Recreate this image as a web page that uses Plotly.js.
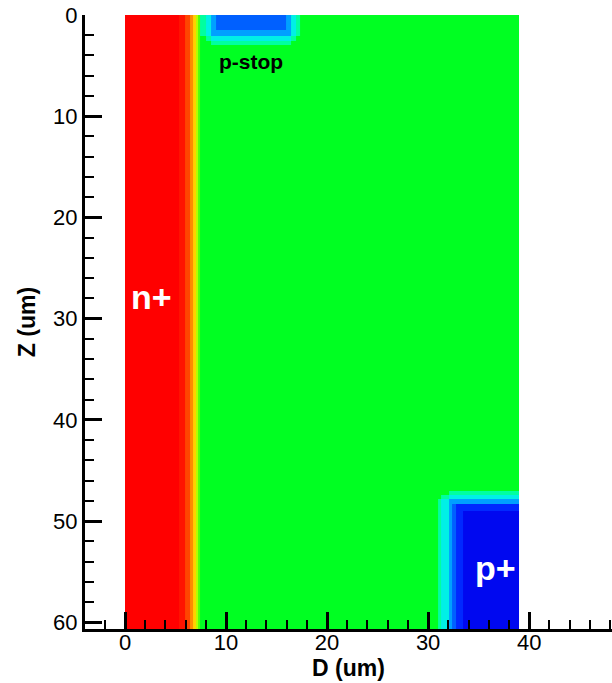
<!DOCTYPE html>
<html>
<head>
<meta charset="utf-8">
<script src="https://cdn.plot.ly/plotly-3.0.1.min.js"></script>
<style>
html,body{margin:0;padding:0;background:#fff;}
#chart{width:612px;height:683px;}
</style>
</head>
<body>
<div id="chart"></div>
<script>
// Cell edges along D (um) and Z (um)
const dEdges = [0, 5.3, 5.9, 6.4, 6.7, 7.0, 7.25, 7.45, 8.0, 8.5, 9.0, 15.9, 16.4, 16.9, 17.3, 31.0, 31.3, 32.1, 32.4, 32.8, 33.5, 39.0];
const zEdges = [0, 1.5, 2.1, 2.6, 3.0, 47.0, 47.4, 47.8, 48.3, 49.0, 61.0];

// Contour level colours (n+ red ... bulk green ... p+ blue)
const levelColors = ['#ff0000','#ff1400','#ff4600','#ff8c00','#ffd200','#b4ff00','#50ff10',
                     '#00ff22','#00ffa0','#00f0e6','#00a0ff','#0060ff','#0028ff','#0008f0'];

// Level index of each cell (rows follow zEdges, columns follow dEdges)
const row0 = [0,1,2,3,4,5,6, 8,9,10,11,10,9,8, 7, 7,7,7,7,7,7];
const row1 = [0,1,2,3,4,5,6, 8,9,10,10,10,9,8, 7, 7,7,7,7,7,7];
const row2 = [0,1,2,3,4,5,6, 7,8,9,9,9,8,7,    7, 7,7,7,7,7,7];
const row3 = [0,1,2,3,4,5,6, 7,7,8,8,8,7,7,    7, 7,7,7,7,7,7];
const row4 = [0,1,2,3,4,5,6, 7,7,7,7,7,7,7,    7, 7,7,7,7,7,7];
const row5 = [0,1,2,3,4,5,6, 7,7,7,7,7,7,7,    7, 7,7,8,8,8,8];
const row6 = [0,1,2,3,4,5,6, 7,7,7,7,7,7,7,    7, 7,8,9,9,9,9];
const row7 = [0,1,2,3,4,5,6, 7,7,7,7,7,7,7,    7, 8,9,10,10,10,10];
const row8 = [0,1,2,3,4,5,6, 7,7,7,7,7,7,7,    7, 8,9,10,11,12,12];
const row9 = [0,1,2,3,4,5,6, 7,7,7,7,7,7,7,    7, 8,9,10,11,12,13];
const levelRows = [row0,row1,row2,row3,row4,row5,row6,row7,row8,row9];

// Region labels
const labelText = ['n+', 'p+', 'p-stop'];
const labelD = [2.6, 36.7, 12.5];
const labelZ = [27.9, 54.6, 4.6];

const n = levelColors.length;
const colorscale = [];
levelColors.forEach((c, i) => {
  colorscale.push([i / n, c]);
  colorscale.push([(i + 1) / n, c]);
});

const trace = {
  type: 'heatmap',
  x: dEdges,
  y: zEdges,
  z: levelRows,
  zmin: -0.5,
  zmax: n - 0.5,
  colorscale: colorscale,
  showscale: false,
  zsmooth: false,
  hoverinfo: 'skip'
};

const fontFam = '"Liberation Sans", Arial, Helvetica, sans-serif';

const annotations = labelText.map((t, i) => ({
  x: labelD[i], y: labelZ[i], xref: 'x', yref: 'y',
  text: '<b>' + t + '</b>', showarrow: false,
  font: {family: fontFam, size: i === 2 ? 21 : 34, color: i === 2 ? '#000000' : '#ffffff'}
}));

const axisCommon = {
  showline: true, linecolor: '#000', linewidth: 3,
  ticks: 'inside', ticklen: 17, tickwidth: 3, tickcolor: '#000',
  dtick: 10, tick0: 0,
  minor: {dtick: 2, ticks: 'inside', ticklen: 9, tickwidth: 2, tickcolor: '#000', showgrid: false},
  showgrid: false, zeroline: false, mirror: false,
  tickfont: {family: fontFam, size: 22, color: '#000'}
};

const layout = {
  width: 612, height: 683,
  margin: {l: 85, r: 0, t: 15, b: 54, pad: 0},
  paper_bgcolor: '#fff', plot_bgcolor: '#fff',
  showlegend: false,
  xaxis: Object.assign({}, axisCommon, {
    range: [-3.96, 48.2],
    ticklabelstandoff: -8,
    title: {text: '<b>D (um)</b>', font: {family: fontFam, size: 23, color: '#000'}, standoff: 0}
  }),
  yaxis: Object.assign({}, axisCommon, {
    range: [60.67, 0],
    title: {text: '<b>Z (um)</b>', font: {family: fontFam, size: 23, color: '#000'}, standoff: 12}
  }),
  annotations: annotations
};

Plotly.newPlot('chart', [trace], layout, {displayModeBar: false, staticPlot: true});
</script>
</body>
</html>
